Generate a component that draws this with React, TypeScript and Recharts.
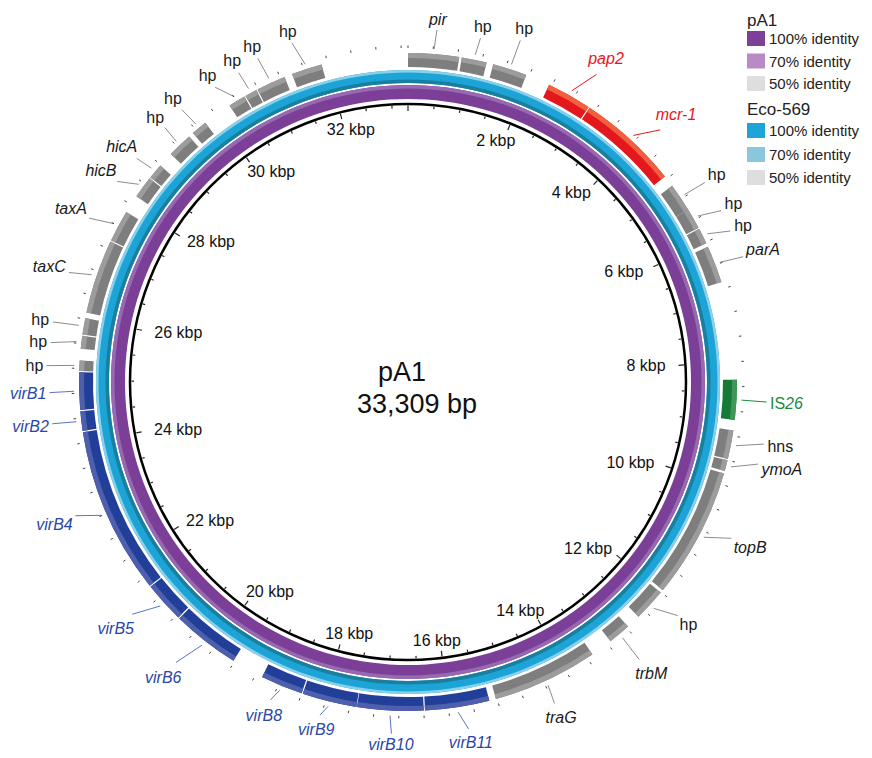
import React from 'react';
import { PieChart, Pie, Cell, RadialBarChart, RadialBar, PolarAngleAxis } from 'recharts';

// ---------- data ----------
const TOTAL_BP = 33309;
const plasmidName = 'pA1';
const plasmidSize = '33,309 bp';

const geneNames = ['pir','hp','hp','pap2','mcr-1','hp','hp','hp','parA','IS26','hns','ymoA','topB','hp','trbM','traG','virB11','virB10','virB9','virB8','virB6','virB5','virB4','virB2','virB1','hp','hp','hp','taxC','taxA','hicB','hicA','hp','hp','hp','hp','hp','hp'];
const geneStart = [0,870,1390,2350,3100,4940,5400,5760,6080,8290,9110,9600,9820,12010,12770,13500,15330,16400,17490,18400,19620,20750,21440,24190,24530,25160,25520,25750,26110,27340,28160,28540,29040,29530,30270,30570,30790,31400];
const geneEnd = [830,1280,1950,3080,4750,5400,5740,6020,6690,8940,9580,9780,11960,12540,13140,15220,16380,17480,18380,19090,20730,21420,24170,24510,25140,25330,25730,26020,27320,27860,28520,28790,29450,29790,30550,30770,31270,31900];
const geneClass = ['other','other','other','mcr','mcr','other','other','other','other','is','other','other','other','other','other','other','vir','vir','vir','vir','vir','vir','vir','vir','vir','other','other','other','other','other','other','other','other','other','other','other','other','other'];

// label layout (clockwise degrees from top, radius px)
const labelAngle = [4.7,11.9,18.2,31.5,45.0,56.1,61.3,64.9,69.5,93.2,99.9,103.2,115.8,130.9,140.2,155.5,170.1,182.7,194.8,203.4,219.6,229.9,248.1,263.3,268.3,272.6,276.3,279.6,287.9,297.2,304.6,309.5,316.3,320.3,326.8,331.3,335.1,341.1];
const labelRadius = [364,363,372,379,379,372,371,370,379,379,378,384,380,371,380,369,366,363,359,363,384,382,381,380,380,374,372,373,377,379,373,371,366,368,366,366,370,371];

const innerTickValues: number[] = [];
for (let v = 0; v < TOTAL_BP; v += 500) innerTickValues.push(v);
const outerTickValues: number[] = [];
for (let v = 0; v < TOTAL_BP; v += 400) outerTickValues.push(v);
const kbpLabelValues = [2000,4000,6000,8000,10000,12000,14000,16000,18000,20000,22000,24000,26000,28000,30000,32000];

const legendGroups = ['pA1', 'Eco-569'];
const legendLevels = ['100% identity', '70% identity', '50% identity'];

// ---------- styling ----------
const W = 872, H = 758;
const CX = 408, CY = 382;
const AXIS_R = 278;
const FONT = '"Liberation Sans", Arial, Helvetica, sans-serif';

const classMain: Record<string, string> = { other: '#7e7e7e', mcr: '#e3171c', is: '#157a36', vir: '#213f98' };
const classLight: Record<string, string> = { other: '#9c9c9c', mcr: '#f0603f', is: '#3f9656', vir: '#4e5fae' };
const classText: Record<string, string> = { other: '#1a1a1a', mcr: '#e8161b', is: '#1d8a3e', vir: '#2a46a8' };
const classLine: Record<string, string> = { other: '#8c8c8c', mcr: '#e8161b', is: '#1d8a3e', vir: '#5b74c4' };
const legendColors = [['#7d3f98', '#b98bc6', '#dedede'], ['#1ca5d7', '#8ac6dc', '#dedede']];

const CW: Record<string, number> = { a:.556,b:.556,c:.5,d:.556,e:.556,f:.278,g:.556,h:.556,i:.222,j:.222,k:.5,l:.222,m:.833,n:.556,o:.556,p:.556,q:.556,r:.333,s:.5,t:.278,u:.556,v:.5,w:.722,x:.5,y:.5,z:.5,A:.667,B:.667,C:.722,G:.778,I:.278,M:.833,S:.667,'-':.333,' ':.278 };
const textWidth = (s: string, fs: number) => s.split('').reduce((a, c) => a + (CW[c] ?? 0.556), 0) * fs;

const polar = (cx: number, cy: number, r: number, deg: number) => {
  const a = (deg * Math.PI) / 180;
  return { x: cx + r * Math.cos(a), y: cy - r * Math.sin(a) };
};

// pie segments (genes and gaps)
type Seg = { name: string; value: number; gene: number };
const segments: Seg[] = [];
{
  let pos = 0;
  geneNames.forEach((n, i) => {
    if (geneStart[i] > pos) segments.push({ name: 'gap', value: geneStart[i] - pos, gene: -1 });
    segments.push({ name: n, value: geneEnd[i] - geneStart[i], gene: i });
    pos = geneEnd[i];
  });
  if (TOTAL_BP > pos) segments.push({ name: 'gap', value: TOTAL_BP - pos, gene: -1 });
}
const ringData = [{ name: 'ring', value: TOTAL_BP }];
const axisData = [{ name: 'axis', v: 0 }];
const allTicks = Array.from(new Set([...innerTickValues, ...outerTickValues])).sort((a, b) => a - b);

const renderGeneLabel = (props: any) => {
  const seg = segments[props.index];
  if (!seg || seg.gene < 0) return <g />;
  const gi = seg.gene;
  const cx = CX, cy = CY;
  const mid = typeof props.midAngle === 'number' ? props.midAngle : 90 - ((geneStart[gi] + geneEnd[gi]) / 2 / TOTAL_BP) * 360;
  const la = 90 - labelAngle[gi];
  const lr = labelRadius[gi];
  const name = geneNames[gi];
  const cls = geneClass[gi];
  const w = textWidth(name, 16), h = 14;
  const th = (labelAngle[gi] * Math.PI) / 180;
  const ext = Math.abs(Math.sin(th)) * w / 2 + Math.abs(Math.cos(th)) * h / 2 + 3;
  const p1 = polar(cx, cy, 334, mid);
  const p2 = polar(cx, cy, lr - ext, la);
  const pt = polar(cx, cy, lr, la);
  const italic = name !== 'hp' && name !== 'hns';
  return (
    <g key={'gl' + gi}>
      <line x1={p1.x} y1={p1.y} x2={p2.x} y2={p2.y} stroke={classLine[cls]} strokeWidth={1} />
      <text x={pt.x} y={pt.y} textAnchor="middle" dominantBaseline="central" fontSize={16} fontFamily={FONT} fill={classText[cls]} fontStyle={italic && name !== 'IS26' ? 'italic' : 'normal'}>
        {name === 'IS26' ? (<><tspan>IS</tspan><tspan fontStyle="italic">26</tspan></>) : name}
      </text>
    </g>
  );
};

const AxisTick = (props: any) => {
  const v = props?.payload?.value;
  const a = props?.payload?.coordinate;
  if (typeof v !== 'number' || typeof a !== 'number') return <g />;
  const els: any[] = [];
  if (v % 500 === 0) {
    const major = v % 2000 === 0;
    const p1 = polar(CX, CY, AXIS_R - 1.5, a);
    const p2 = polar(CX, CY, AXIS_R - (major ? 7 : 4), a);
    els.push(<line key="i" x1={p1.x} y1={p1.y} x2={p2.x} y2={p2.y} stroke="#222" strokeWidth={1.2} />);
    if (kbpLabelValues.includes(v)) {
      const label = `${v / 1000} kbp`;
      const th = ((90 - a) * Math.PI) / 180;
      const w = textWidth(label, 16);
      const P = polar(CX, CY, 260, a);
      const x = P.x - Math.sin(th) * (w / 2 + 2);
      els.push(<text key="t" x={x} y={P.y} textAnchor="middle" dominantBaseline="central" fontSize={16} fontFamily={FONT} fill="#111">{label}</text>);
    }
  }
  if (v % 400 === 0) {
    const q1 = polar(CX, CY, 334, a);
    const q2 = polar(CX, CY, 336.5, a);
    els.push(<line key="o" x1={q1.x} y1={q1.y} x2={q2.x} y2={q2.y} stroke="#444" strokeWidth={1} />);
  }
  return <g>{els}</g>;
};

const ring = (key: string, inner: number, outer: number, fill: string) => (
  <Pie key={key} data={ringData} dataKey="value" cx={CX} cy={CY} innerRadius={inner} outerRadius={outer}
    startAngle={90} endAngle={-270} stroke="none" fill={fill} isAnimationActive={false} />
);

const abs: React.CSSProperties = { position: 'absolute', left: 0, top: 0 };

export default function App() {
  return (
    <div style={{ position: 'absolute', left: 0, top: 0, width: W, height: H, background: '#fff', overflow: 'hidden' }}>
      <div style={abs}>
        <PieChart width={W} height={H} margin={{ top: 0, right: 0, bottom: 0, left: 0 }}>
          {ring('p1', 283, 297, '#7b3f98')}
          {ring('p2', 293.5, 297, '#9669b2')}
          {ring('b1', 299, 312, '#1ca4d6')}
          {ring('b2', 299, 302.5, '#1a7f9f')}
          {ring('b3', 309.5, 312, '#8bd0ea')}
          <Pie data={segments} dataKey="value" cx={CX} cy={CY} innerRadius={315} outerRadius={329}
            startAngle={90} endAngle={-270} isAnimationActive={false} label={renderGeneLabel} labelLine={false} stroke="none">
            {segments.map((s, i) => (
              <Cell key={'g' + i} fill={s.gene < 0 ? 'none' : classMain[geneClass[s.gene]]} stroke="none" />
            ))}
          </Pie>
          <Pie data={segments} dataKey="value" cx={CX} cy={CY} innerRadius={324} outerRadius={329}
            startAngle={90} endAngle={-270} isAnimationActive={false} stroke="none">
            {segments.map((s, i) => (
              <Cell key={'h' + i} fill={s.gene < 0 ? 'none' : classLight[geneClass[s.gene]]} stroke="none" />
            ))}
          </Pie>
        </PieChart>
      </div>
      <div style={abs}>
        <RadialBarChart width={W} height={H} cx={CX} cy={CY} innerRadius={0} outerRadius={AXIS_R}
          startAngle={90} endAngle={-270} data={axisData} margin={{ top: 0, right: 0, bottom: 0, left: 0 }}>
          <PolarAngleAxis type="number" domain={[0, TOTAL_BP]} ticks={allTicks} axisLineType="circle"
            axisLine={{ stroke: '#000', strokeWidth: 2.5 }} tickLine={false} tick={AxisTick} />
          <RadialBar dataKey="v" fill="none" isAnimationActive={false} />
        </RadialBarChart>
      </div>
      <svg style={abs} width={W} height={H}>
        <text x={402} y={381} textAnchor="middle" fontSize={27} fontFamily={FONT} fill="#111">{plasmidName}</text>
        <text x={417} y={413} textAnchor="middle" fontSize={27} fontFamily={FONT} fill="#111">{plasmidSize}</text>
        {legendGroups.map((g, gi) => {
          const top = gi === 0 ? 26 : 115;
          const sw = gi === 0 ? [31, 53.5, 76] : [123, 147, 170];
          return (
            <g key={g}>
              <text x={747} y={top} fontSize={17} fontFamily={FONT} fill="#222">{g}</text>
              {legendLevels.map((l, li) => (
                <g key={l}>
                  <rect x={747} y={sw[li]} width={18} height={15} fill={legendColors[gi][li]} />
                  <text x={769} y={sw[li] + 13} fontSize={15} fontFamily={FONT} fill="#222">{l}</text>
                </g>
              ))}
            </g>
          );
        })}
      </svg>
    </div>
  );
}
